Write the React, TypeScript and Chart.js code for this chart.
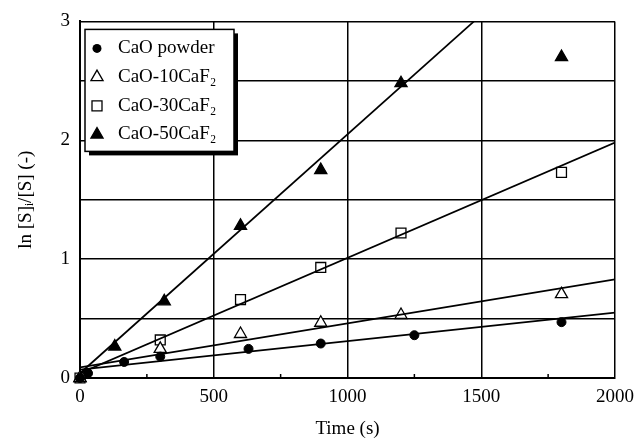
import React, { useEffect, useRef } from "react";
import { Chart, registerables } from "chart.js";

Chart.register(...registerables);

// ---- data ----
const seriesNames = ["CaO powder", "CaO-10CaF₂", "CaO-30CaF₂", "CaO-50CaF₂"];

const caoT = [0, 30, 165, 300, 630, 900, 1250, 1800];
const caoV = [0.0, 0.04, 0.135, 0.18, 0.245, 0.29, 0.36, 0.47];

const f10T = [0, 300, 600, 900, 1200, 1800];
const f10V = [0.0, 0.245, 0.37, 0.465, 0.53, 0.705];

const f30T = [0, 300, 600, 900, 1200, 1800];
const f30V = [0.0, 0.32, 0.66, 0.93, 1.22, 1.73];

const f50T = [0, 130, 315, 600, 900, 1200, 1800];
const f50V = [0.0, 0.265, 0.645, 1.28, 1.75, 2.48, 2.7];

// fitted regression lines (start, end)
const fitT = [0, 2000];
const fitCaO = [0.07, 0.55];
const fit10 = [0.09, 0.83];
const fit30 = [0.04, 1.98];
const fit50 = [0.04, 4.06];

const xTicks = [0, 500, 1000, 1500, 2000];
const xMinorTicks = [250, 750, 1250, 1750];
const yTickLabels = [0, 1, 2, 3];

const FONT = "'Liberation Serif', 'Times New Roman', serif";

const pts = (t: number[], v: number[]) => t.map((x, i) => ({ x, y: v[i] }));

type MarkerKind = "circle" | "triOpen" | "rectOpen" | "triFilled";
const markerKinds: MarkerKind[] = ["circle", "triOpen", "rectOpen", "triFilled"];

function drawMarker(ctx: CanvasRenderingContext2D, kind: MarkerKind, x: number, y: number) {
  ctx.save();
  ctx.lineWidth = 1.3;
  ctx.strokeStyle = "#000";
  ctx.beginPath();
  if (kind === "circle") {
    ctx.arc(x, y, 4.5, 0, Math.PI * 2);
    ctx.fillStyle = "#000";
    ctx.fill();
  } else if (kind === "rectOpen") {
    ctx.rect(x - 5, y - 5, 10, 10);
    ctx.fillStyle = "#fff";
    ctx.fill();
    ctx.stroke();
  } else {
    const r = 7;
    ctx.moveTo(x, y - r);
    ctx.lineTo(x + r * 0.866, y + r * 0.5);
    ctx.lineTo(x - r * 0.866, y + r * 0.5);
    ctx.closePath();
    ctx.fillStyle = kind === "triFilled" ? "#000" : "#fff";
    ctx.fill();
    ctx.stroke();
  }
  ctx.restore();
}

const extrasPlugin = {
  id: "extras",
  afterDatasetsDraw(chart: any) {
    const { ctx, chartArea, scales } = chart;
    // minor ticks on x axis (inward)
    ctx.save();
    ctx.strokeStyle = "#000";
    ctx.lineWidth = 1.5;
    xMinorTicks.forEach((t) => {
      const px = scales.x.getPixelForValue(t);
      ctx.beginPath();
      ctx.moveTo(px, chartArea.bottom);
      ctx.lineTo(px, chartArea.bottom - 4);
      ctx.stroke();
    });
    ctx.restore();

    // legend box
    const bx = chartArea.left + 5;
    const by = chartArea.top + 8;
    const bw = 149;
    const bh = 122;
    ctx.save();
    ctx.fillStyle = "#000";
    ctx.fillRect(bx + 4, by + 4, bw, bh);
    ctx.fillStyle = "#fff";
    ctx.fillRect(bx, by, bw, bh);
    ctx.strokeStyle = "#000";
    ctx.lineWidth = 1.5;
    ctx.strokeRect(bx, by, bw, bh);
    ctx.font = `19px ${FONT}`;
    ctx.fillStyle = "#000";
    ctx.textBaseline = "middle";
    ctx.textAlign = "left";
    seriesNames.forEach((name, i) => {
      const yy = by + 19 + i * 28.7;
      drawMarker(ctx, markerKinds[i], bx + 12, yy);
      ctx.fillText(name, bx + 33, yy);
    });
    ctx.restore();
  },
};

export default function App() {
  const ref = useRef<HTMLCanvasElement | null>(null);

  useEffect(() => {
    if (!ref.current) return;
    Chart.defaults.font.family = FONT;
    Chart.defaults.color = "#000";

    const lineDs = (v: number[]) => ({
      type: "line" as const,
      data: pts(fitT, v),
      borderColor: "#000",
      borderWidth: 1.7,
      pointRadius: 0,
      fill: false,
      tension: 0,
    });

    const chart = new Chart(ref.current, {
      type: "scatter",
      data: {
        datasets: [
          lineDs(fitCaO),
          lineDs(fit10),
          lineDs(fit30),
          lineDs(fit50),
          {
            label: seriesNames[0],
            data: pts(caoT, caoV),
            pointStyle: "circle",
            pointRadius: 4.5,
            backgroundColor: "#000",
            borderColor: "#000",
            borderWidth: 1,
            clip: false,
          } as any,
          {
            label: seriesNames[1],
            data: pts(f10T, f10V),
            pointStyle: "triangle",
            pointRadius: 7,
            backgroundColor: "#fff",
            borderColor: "#000",
            borderWidth: 1.3,
            clip: false,
          } as any,
          {
            label: seriesNames[2],
            data: pts(f30T, f30V),
            pointStyle: "rect",
            pointRadius: 7,
            backgroundColor: "#fff",
            borderColor: "#000",
            borderWidth: 1.3,
            clip: false,
          } as any,
          {
            label: seriesNames[3],
            data: pts(f50T, f50V),
            pointStyle: "triangle",
            pointRadius: 7,
            backgroundColor: "#000",
            borderColor: "#000",
            borderWidth: 1.3,
            clip: false,
          } as any,
        ],
      },
      options: {
        responsive: false,
        animation: false,
        events: [],
        layout: { padding: { top: 15, right: 29, left: 0, bottom: 0 } },
        plugins: {
          legend: { display: false },
          tooltip: { enabled: false },
        },
        scales: {
          x: {
            type: "linear",
            min: 0,
            max: 2000,
            afterFit: (s: any) => {
              s.height = 61;
            },
            afterBuildTicks: (s: any) => {
              s.ticks = xTicks.map((v) => ({ value: v }));
            },
            ticks: {
              font: { size: 19, family: FONT },
              color: "#000",
              padding: 8,
              maxRotation: 0,
              callback: (v: any) => String(v),
            },
            grid: { color: "#000", lineWidth: 1.5, drawTicks: false },
            border: { color: "#000", width: 2 },
            title: {
              display: true,
              text: "Time (s)",
              font: { size: 19, family: FONT, lineHeight: 1 },
              color: "#000",
              padding: { top: 0, bottom: 0 },
            },
          },
          y: {
            type: "linear",
            min: 0,
            max: 3,
            afterFit: (s: any) => {
              s.width = 80;
            },
            ticks: {
              stepSize: 0.5,
              font: { size: 19, family: FONT },
              color: "#000",
              padding: 10,
              callback: (v: any) => (yTickLabels.includes(Number(v)) ? String(v) : ""),
            },
            grid: { color: "#000", lineWidth: 1.5, drawTicks: false },
            border: { color: "#000", width: 2 },
            title: {
              display: true,
              text: "ln [S]ᵢ/[S] (-)",
              font: { size: 19, family: FONT, lineHeight: 1.2 },
              color: "#000",
              padding: { top: 14.5, bottom: 0 },
            },
          },
        },
      },
      plugins: [extrasPlugin],
    } as any);

    return () => chart.destroy();
  }, []);

  return (
    <div style={{ position: "fixed", left: 0, top: 0, width: 644, height: 439, background: "#fff" }}>
      <canvas ref={ref} width={644} height={439} style={{ width: 644, height: 439 }} />
    </div>
  );
}
